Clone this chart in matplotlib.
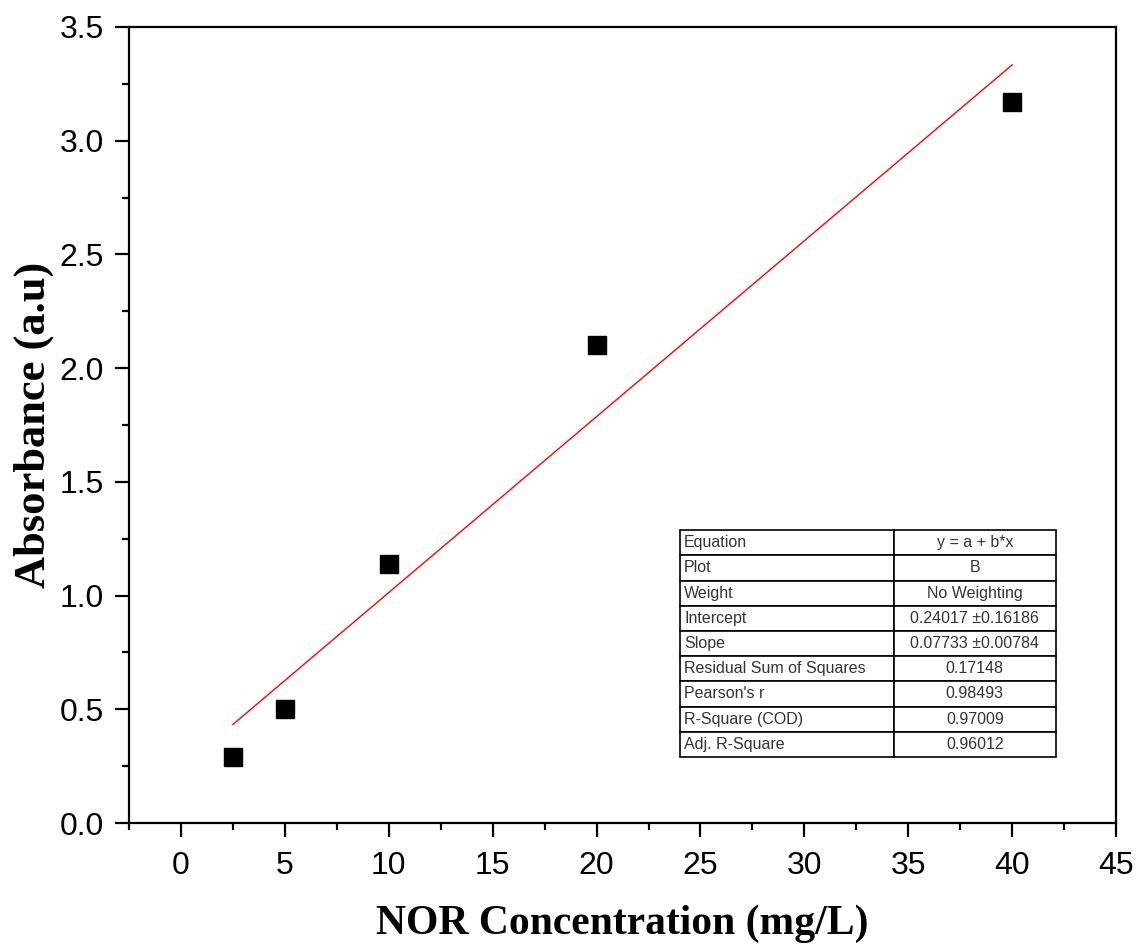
import matplotlib.pyplot as plt
import numpy as np
from matplotlib.ticker import MultipleLocator

# measured points
conc = [2.5, 5, 10, 20, 40]
absorb = [0.29, 0.50, 1.14, 2.10, 3.17]

# linear fit reported by the fit table
intercept = 0.24017
slope = 0.07733

table_keys = ["Equation", "Plot", "Weight", "Intercept", "Slope",
              "Residual Sum of Squares", "Pearson's r", "R-Square (COD)",
              "Adj. R-Square"]
table_vals = ["y = a + b*x", "B", "No Weighting", "0.24017 \u00b10.16186",
              "0.07733 \u00b10.00784", "0.17148", "0.98493", "0.97009",
              "0.96012"]

fig = plt.figure(figsize=(11.38, 9.47), dpi=100)
ax = fig.add_axes([0.1134, 0.1309, 0.8673, 0.8406])

ax.plot(conc, absorb, 's', color='black', markersize=13, zorder=3)
xfit = np.array([conc[0], conc[-1]])
ax.plot(xfit, intercept + slope * xfit, color='red', lw=1.0, zorder=2)

ax.set_xlim(-2.5, 45)
ax.set_ylim(0, 3.5)
ax.xaxis.set_major_locator(MultipleLocator(5))
ax.xaxis.set_minor_locator(MultipleLocator(2.5))
ax.yaxis.set_major_locator(MultipleLocator(0.5))
ax.yaxis.set_minor_locator(MultipleLocator(0.25))
ax.yaxis.set_major_formatter(plt.FuncFormatter(lambda v, p: f"{v:.1f}"))

for s in ax.spines.values():
    s.set_linewidth(1.6)
ax.tick_params(which='both', direction='out', width=1.6, top=False, right=False)
ax.tick_params(which='major', length=10, labelsize=23)
ax.tick_params(axis='x', which='major', pad=10)
ax.tick_params(axis='y', which='major', pad=8)
ax.tick_params(which='minor', length=5)
for lab in ax.get_xticklabels() + ax.get_yticklabels():
    lab.set_family('Liberation Sans')

ax.set_xlabel('NOR Concentration (mg/L)', family='Liberation Serif',
              fontweight='bold', fontsize=30, labelpad=17)
ax.set_ylabel('Absorbance (a.u)', family='Liberation Serif',
              fontweight='bold', fontsize=32, labelpad=4)

cells = [[k, v] for k, v in zip(table_keys, table_vals)]
tab = ax.table(cellText=cells, bbox=[0.558, 0.083, 0.381, 0.285],
               colWidths=[0.569, 0.431])
tab.auto_set_font_size(False)
for (r, c), cell in tab.get_celld().items():
    cell.set_linewidth(1.2)
    cell.get_text().set_fontsize(11.5)
    cell.get_text().set_family('Liberation Sans')
    cell.get_text().set_color('#333333')
    if c == 0:
        cell.get_text().set_ha('left')
        cell.PAD = 0.02
    else:
        cell.get_text().set_ha('center')

fig.savefig('out.png', dpi=100)
